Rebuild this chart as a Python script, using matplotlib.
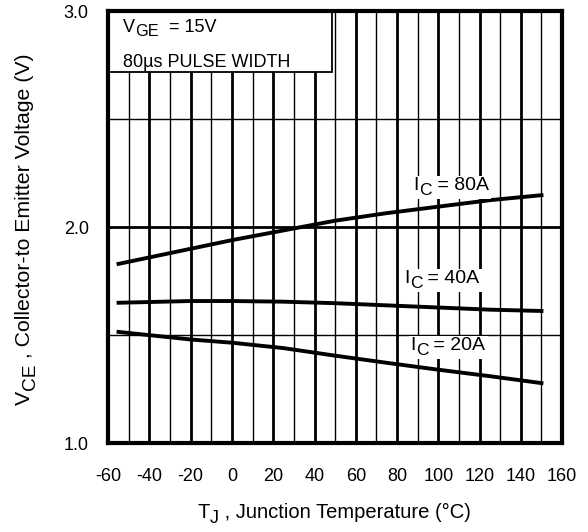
import matplotlib
matplotlib.use("Agg")
import matplotlib.pyplot as plt
from matplotlib.patches import Rectangle
from matplotlib.ticker import MultipleLocator
from matplotlib.transforms import IdentityTransform, Bbox

plt.rcParams['font.family'] = ['Liberation Sans', 'DejaVu Sans']
plt.rcParams['axes.unicode_minus'] = False

# Junction temperature (°C)
temp = [-55, -20, 0, 25, 50, 75, 100, 125, 150]
# V_CE for each collector current
vce_80a = [1.83, 1.90, 1.94, 1.985, 2.03, 2.065, 2.095, 2.125, 2.148]
vce_40a = [1.65, 1.658, 1.658, 1.655, 1.648, 1.638, 1.628, 1.618, 1.612]
vce_20a = [1.515, 1.48, 1.465, 1.44, 1.405, 1.372, 1.34, 1.31, 1.278]

curve_values = ['80A', '40A', '20A']

W, H = 588, 532
fig = plt.figure(figsize=(W / 100, H / 100), dpi=100)
ax = fig.add_axes([0.184, 0.167, 0.772, 0.812])
ident = IdentityTransform()
renderer = fig.canvas.get_renderer()


def text_width(s, size):
    t = fig.text(0, 0, '|' + s + '|', fontsize=size, transform=ident)
    w = t.get_window_extent(renderer).width
    t.set_text('||')
    w -= t.get_window_extent(renderer).width
    t.remove()
    return w


def rich(pieces, x, y, size, rotation=0, center=True, background=False):
    # pieces: (текст, подстрочный?) ; x, y в пикселях, y от низа
    sizes = [size * (0.9 if sub else 1.0) for _, sub in pieces]
    ws = [text_width(s, sz) for (s, _), sz in zip(pieces, sizes)]
    pos = -sum(ws) / 2 if center else 0
    texts = []
    for (s, sub), sz, w in zip(pieces, sizes, ws):
        drop = size * 0.33 if sub else 0
        if rotation:
            px, py = x + drop, y + pos
        else:
            px, py = x + pos, y - drop
        texts.append(fig.text(px, py, s, fontsize=sz, transform=ident,
                              rotation=rotation, rotation_mode='anchor',
                              ha='left', va='baseline', zorder=6))
        pos += w
    if background:
        bb = Bbox.union([t.get_window_extent(renderer) for t in texts])
        fig.add_artist(Rectangle((bb.x0 - 2, bb.y0 - 1), bb.width + 4, bb.height + 2,
                                 transform=ident, facecolor='white',
                                 edgecolor='none', zorder=5.5))


ax.set_xlim(-60, 160)
ax.set_ylim(1.0, 3.0)
ax.xaxis.set_major_locator(MultipleLocator(20))
ax.xaxis.set_minor_locator(MultipleLocator(10))
ax.yaxis.set_major_locator(MultipleLocator(1.0))
ax.yaxis.set_minor_locator(MultipleLocator(0.5))
ax.yaxis.set_major_formatter(plt.FormatStrFormatter('%.1f'))

# сетка: толстые основные, тонкие промежуточные
ax.grid(which='major', color='black', linewidth=2.0)
ax.grid(which='minor', color='black', linewidth=1.0)
ax.tick_params(which='both', length=0)
ax.tick_params(axis='x', pad=18, labelsize=13)
ax.tick_params(axis='y', pad=14, labelsize=13)
for s in ax.spines.values():
    s.set_linewidth(3.0)
    s.set_zorder(5)

for v in (vce_80a, vce_40a, vce_20a):
    ax.plot(temp, v, color='black', linewidth=2.8, zorder=3)

# подписи кривых (центр по x, базовая линия по y в пикселях)
label_xy = [(451, 342), (442, 249), (448, 182)]
for val, (x, y) in zip(curve_values, label_xy):
    rich([('I', False), ('C', True), (' = ' + val, False)], x, y, 14, background=True)

# рамка с условиями измерения
ax.add_patch(Rectangle((0, 0.859), 0.493, 0.141, transform=ax.transAxes,
                       facecolor='white', edgecolor='black', linewidth=1.3, zorder=4))
rich([('V', False), ('GE', True), ('  = 15V', False)], 123, 500, 13, center=False)
rich([('80µs PULSE WIDTH', False)], 123, 465, 13, center=False)

rich([('T', False), ('J', True), (' , Junction Temperature (°C)', False)], 334, 14, 14.5)
rich([('V', False), ('CE', True), (' , Collector-to Emitter Voltage (V)', False)],
     30, 303, 15.3, rotation=90)

fig.savefig('out.png', dpi=100)
